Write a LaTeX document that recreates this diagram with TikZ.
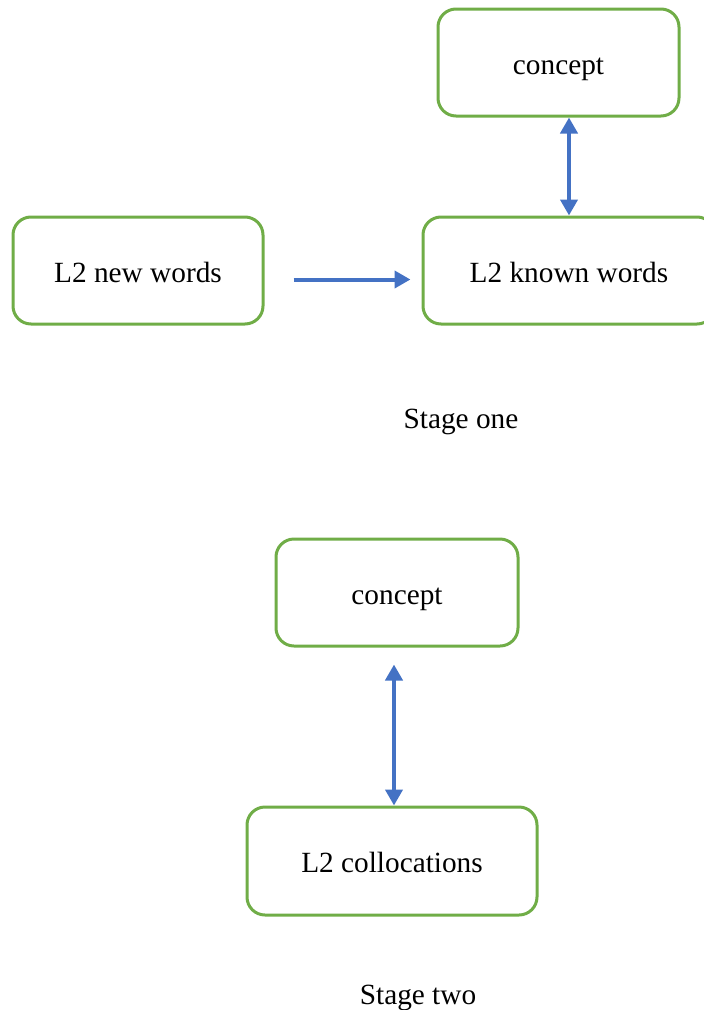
\documentclass[tikz,border=0pt]{standalone}
\usepackage{fontspec}
\setmainfont{Liberation Serif}
\usetikzlibrary{arrows.meta,calc}
\definecolor{boxgreen}{HTML}{70AD47}
\definecolor{arrowblue}{HTML}{4472C4}
\begin{document}
\begin{tikzpicture}[x=1pt,y=-1pt,
  box/.style={draw=boxgreen,line width=3pt,rounded corners=18pt,fill=white,
    inner sep=0pt,text height=23pt,text depth=0pt,font=\fontsize{29.3}{35}\selectfont},
  link/.style={draw=arrowblue,line width=4pt},
  tipb/.style={-{Triangle[length=16pt,width=17pt]}},
  tipbb/.style={{Triangle[length=16pt,width=17pt]}-{Triangle[length=16pt,width=17pt]}},
  lbl/.style={font=\fontsize{29.3}{35}\selectfont,inner sep=0pt,text height=23pt,text depth=0pt}]
\useasboundingbox (0,0) rectangle (704,1010);
\node[box,minimum width=241pt,minimum height=107pt] (c1) at (558.5,62.5) {concept};
\node[box,minimum width=292pt,minimum height=107pt] (kw) at (569,270.5) {L2 known words};
\node[box,minimum width=250pt,minimum height=107pt] (nw) at (138,270.5) {L2 new words};
\node[lbl] (s1) at (461,417) {Stage one};
\node[box,minimum width=242pt,minimum height=107pt] (c2) at (397,592.5) {concept};
\node[box,minimum width=290pt,minimum height=108pt] (col) at (392,861) {L2 collocations};
\node[lbl] (s2) at (418,993) {Stage two};
\coordinate (a1s) at ($(nw.east)+(29,9)$);
\coordinate (a1e) at ($(kw.west)+(-11,9)$);
\draw[link,tipb] (a1s) -- (a1e);
\draw[link,tipbb] (c1.south -| kw.north) -- (kw.north);
\coordinate (a3s) at ($(c2.south)+(-3,17)$);
\draw[link,tipbb] (a3s) -- (a3s |- col.north);
\end{tikzpicture}
\end{document}
